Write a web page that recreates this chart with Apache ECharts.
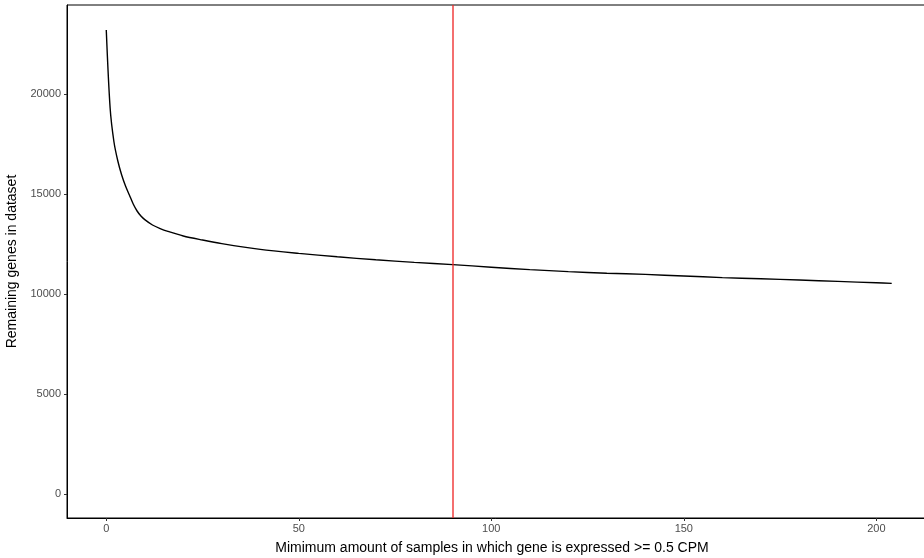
<!DOCTYPE html>
<html>
<head>
<meta charset="utf-8">
<script src="https://cdn.jsdelivr.net/npm/echarts@6/dist/echarts.min.js"></script>
<style>
html,body{margin:0;padding:0;background:#fff;}
#chart{width:924px;height:558px;}
</style>
</head>
<body>
<div id="chart"></div>
<script>
// Minimum number of samples (x) and remaining genes (y)
const minSamples = [0, 1, 2, 3, 4, 5, 6, 7, 8, 9, 10, 12, 14, 16, 20, 25, 30, 40, 50, 60, 70, 80, 90, 100, 110, 120, 130, 140, 150, 160, 170, 180, 190, 200, 204];
const remainingGenes = [23200, 19300, 17600, 16650, 15950, 15400, 14950, 14500, 14150, 13900, 13720, 13450, 13270, 13130, 12900, 12700, 12520, 12230, 12030, 11860, 11710, 11580, 11470, 11340, 11220, 11120, 11040, 10980, 10900, 10820, 10760, 10700, 10630, 10560, 10530];
const cutoff = 90;
const xTicks = [0, 50, 100, 150, 200];
const yTicks = [0, 5000, 10000, 15000, 20000];
const xTitle = 'Mimimum amount of samples in which gene is expressed >= 0.5 CPM';
const yTitle = 'Remaining genes in dataset';

const chart = echarts.init(document.getElementById('chart'), null, {renderer: 'canvas'});
const font = 'Liberation Sans, Arial, Helvetica, sans-serif';
chart.setOption({
  animation: false,
  backgroundColor: '#fff',
  grid: {
    left: 67, right: -7, top: 5, bottom: 40,
    containLabel: false, outerBoundsMode: 'none',
    show: true, borderColor: '#000', borderWidth: 1, backgroundColor: 'transparent'
  },
  xAxis: {
    type: 'value',
    min: -10.2, max: 214.2,
    name: xTitle,
    nameLocation: 'middle',
    nameGap: 23,
    nameTextStyle: {fontFamily: font, fontSize: 14, color: '#000', padding: [0, 14, 0, 0]},
    axisLine: {show: true, onZero: false, lineStyle: {color: '#000', width: 1}},
    axisTick: {show: true, length: 3, customValues: xTicks, lineStyle: {color: '#333'}},
    axisLabel: {customValues: xTicks, fontFamily: font, fontSize: 11, color: '#4d4d4d', margin: 5,
      formatter: v => String(v)},
    splitLine: {show: false}
  },
  yAxis: {
    type: 'value',
    min: -1200, max: 24450,
    name: yTitle,
    nameLocation: 'middle',
    nameGap: 44,
    nameTextStyle: {fontFamily: font, fontSize: 14, color: '#000'},
    axisLine: {show: true, onZero: false, lineStyle: {color: '#000', width: 1}},
    axisTick: {show: true, length: 3, customValues: yTicks, lineStyle: {color: '#333'}},
    axisLabel: {customValues: yTicks, fontFamily: font, fontSize: 11, color: '#4d4d4d', margin: 6,
      formatter: v => String(v)},
    splitLine: {show: false}
  },
  series: [{
    type: 'line',
    data: minSamples.map((x, i) => [x, remainingGenes[i]]),
    smooth: 0.3,
    showSymbol: false,
    lineStyle: {color: '#000', width: 1.4},
    markLine: {
      silent: true,
      symbol: 'none',
      label: {show: false},
      lineStyle: {color: '#ee2a2a', width: 1.5, type: 'solid', opacity: 0.9},
      emphasis: {disabled: true},
      data: [{xAxis: cutoff}]
    }
  }]
});
</script>
</body>
</html>
